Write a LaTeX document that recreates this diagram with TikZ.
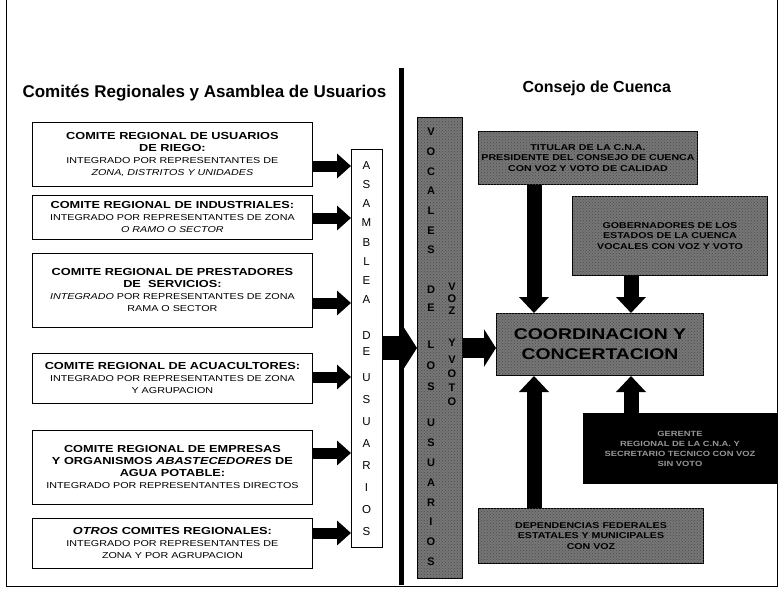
\documentclass[tikz,border=0pt]{standalone}
\usepackage{fontspec}
\setmainfont{Liberation Sans}
\newfontfamily\widefont{Liberation Sans}[FakeStretch=1.25]
\usetikzlibrary{positioning, arrows.meta, patterns}
\definecolor{ScreenGray}{RGB}{118,118,118}
\definecolor{InkGray}{RGB}{150,150,150}
\newcommand{\comtit}{\fontsize{10.2}{12}\selectfont\bfseries}
\newcommand{\comtxt}{\fontsize{8.6}{12}\selectfont\mdseries}
\tikzset{
  comite/.style={draw, line width=0.8pt, anchor=north west, minimum width=280pt,
    align=center, inner sep=1pt, font=\widefont\comtit},
  consejo/.style={draw, line width=1pt, anchor=north west, fill=ScreenGray,
    postaction={pattern=crosshatch dots, pattern color=black!70},
    align=center, inner sep=1pt, text=black, font=\widefont\bfseries\fontsize{8.5}{10.5}\selectfont},
  flecha/.style={line width=11pt, -{Triangle[width=24pt,length=14pt]}},
  flechagrande/.style={line width=24pt, -{Triangle[width=40pt,length=13pt]}},
  vflecha/.style={line width=15pt, -{Triangle[width=29pt,length=16pt]}},
  letra/.style={inner sep=0pt, font=\fontsize{11.5}{11.5}\selectfont},
  letrav/.style={inner sep=0pt, font=\bfseries\fontsize{11}{11}\selectfont, text=black}
}
\begin{document}
\begin{tikzpicture}[x=1pt, y=-1pt]
  \useasboundingbox (0,0) rectangle (782,594);
  % frame
  \draw[line width=0.8pt] (6,0) -- (6,586) -- (777,586) -- (777,0);
  % Titles
  \node[font=\bfseries\fontsize{17}{19}\selectfont, anchor=west] (tituloA) at (19,93) {Comités Regionales y Asamblea de Usuarios};
  \node[font=\bfseries\fontsize{16}{18}\selectfont, anchor=west] (tituloB) at (519,88) {Consejo de Cuenca};
  % Division line
  \draw[line width=5pt] (401,68) -- (401,585);
  % Regional committees
  \node[comite, minimum height=64pt] (c1) at (32,122)
    {COMITE REGIONAL DE USUARIOS\\DE RIEGO:\\\comtxt INTEGRADO POR REPRESENTANTES DE\\\comtxt\itshape ZONA, DISTRITOS Y UNIDADES};
  \node[comite, minimum height=44pt] (c2) at (32,195)
    {COMITE REGIONAL DE INDUSTRIALES:\\\comtxt INTEGRADO POR REPRESENTANTES DE ZONA\\\comtxt\itshape O RAMO O SECTOR};
  \node[comite, minimum height=74pt] (c3) at (32,253)
    {COMITE REGIONAL DE PRESTADORES\\DE\ \ SERVICIOS:\\\comtxt\textit{INTEGRADO} POR REPRESENTANTES DE ZONA\\\comtxt RAMA O SECTOR};
  \node[comite, minimum height=50pt] (c4) at (32,353)
    {COMITE REGIONAL DE ACUACULTORES:\\\comtxt INTEGRADO POR REPRESENTANTES DE ZONA\\\comtxt Y AGRUPACION};
  \node[comite, minimum height=74pt] (c5) at (32,430)
    {COMITE REGIONAL DE EMPRESAS\\Y ORGANISMOS \textit{ABASTECEDORES} DE\\AGUA POTABLE:\\\comtxt INTEGRADO POR REPRESENTANTES DIRECTOS};
  \node[comite, minimum height=50pt] (c6) at (32,518)
    {\textit{OTROS} COMITES REGIONALES:\\\comtxt INTEGRADO POR REPRESENTANTES DE\\\comtxt ZONA Y POR AGRUPACION};
  % Asamblea de usuarios
  \node[draw, line width=0.8pt, anchor=north west, minimum width=31pt, minimum height=398pt] (asam) at (351,149) {};
  \foreach \l/\y [count=\i] in {A/166,S/185,A/204,M/223,B/243,L/262,E/281,A/300,
      D/336,E/352,U/378,S/400,U/422,A/444,R/466,I/488,O/510,S/532}
    \node[letra] (asamL\i) at (366.5,\y) {\l};
  % Vocales strip
  \node[consejo, minimum width=45pt, minimum height=461pt] (vocales) at (417,117) {};
  \foreach \l/\y [count=\i] in {V/132,O/151.7,C/171.3,A/191,L/210.7,E/230.3,S/250,
      D/290,E/308,L/345,O/366,S/387,U/423,S/443,U/463,A/483,R/503,I/522,O/542,S/562}
    \node[letrav] (vocL\i) at (431,\y) {\l};
  \foreach \l/\y [count=\i] in {V/287,O/299,Z/311,Y/343,V/360,O/374,T/388,O/402}
    \node[letrav] (vozL\i) at (452,\y) {\l};
  % Consejo de Cuenca
  \node[consejo, minimum width=219pt, minimum height=53pt] (titular) at (478,131)
    {TITULAR DE LA C.N.A.\\PRESIDENTE DEL CONSEJO DE CUENCA\\CON VOZ Y VOTO DE CALIDAD};
  \node[consejo, minimum width=195pt, minimum height=79pt] (gobiernos) at (572,196)
    {GOBERNADORES DE LOS\\ESTADOS DE LA CUENCA\\VOCALES CON VOZ Y VOTO};
  \node[consejo, minimum width=207pt, minimum height=62pt, font=\widefont\bfseries\fontsize{15.5}{20}\selectfont] (coord) at (496,313)
    {COORDINACION Y\\CONCERTACION};
  \node[draw, line width=1pt, anchor=north west, fill=black, text=InkGray, align=center,
    minimum width=193pt, minimum height=70pt, font=\widefont\bfseries\fontsize{7.5}{10}\selectfont] (gerente) at (583,413)
    {GERENTE\\REGIONAL DE LA C.N.A. Y\\SECRETARIO TECNICO CON VOZ\\SIN VOTO};
  \node[consejo, minimum width=225pt, minimum height=55pt] (invitados) at (478,508)
    {DEPENDENCIAS FEDERALES\\ESTATALES Y MUNICIPALES\\CON VOZ};
  % Connectors
  \foreach \c/\y in {c1/166,c2/218,c3/303,c4/377,c5/453,c6/533}
    \draw[flecha] (\c.east |- 0,\y) -- (asam.west |- 0,\y);
  \coordinate (ejeC) at (0,348);
  \draw[flechagrande] (asam.east |- ejeC) -- (vocales.west |- ejeC);
  \draw[flechagrande, line width=20pt, -{Triangle[width=37pt,length=12pt]}] (vocales.east |- ejeC) -- (coord.west |- ejeC);
  \coordinate (colA) at (534,0);
  \coordinate (colB) at (631,0);
  \draw[vflecha] (titular.south -| colA) -- (coord.north -| colA);
  \draw[vflecha] (gobiernos.south -| colB) -- (coord.north -| colB);
  \draw[vflecha] (gerente.north -| colB) -- (coord.south -| colB);
  \draw[vflecha] (invitados.north -| colA) -- (coord.south -| colA);
\end{tikzpicture}
\end{document}
